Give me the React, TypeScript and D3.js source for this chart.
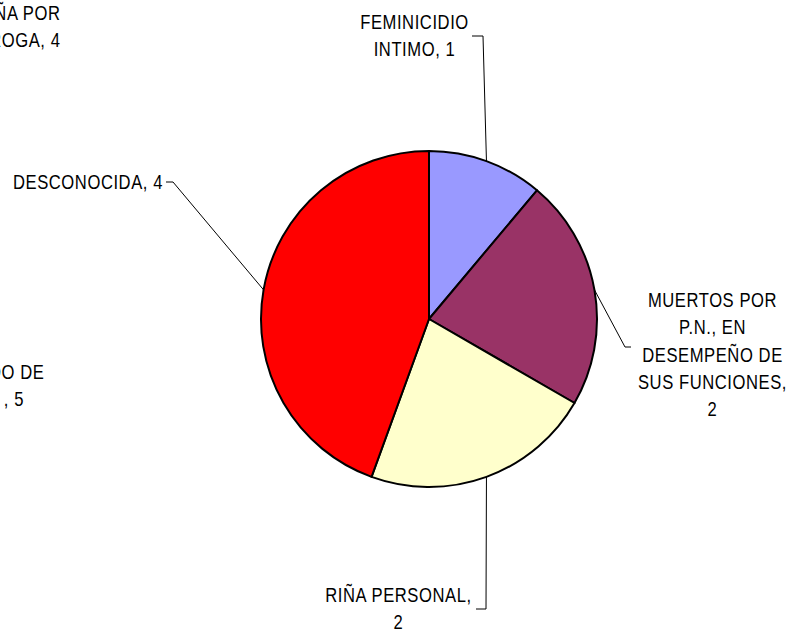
import React from "react";
import * as d3 from "d3";

const categories = [
  "FEMINICIDIO INTIMO",
  "MUERTOS POR P.N., EN DESEMPEÑO DE SUS FUNCIONES",
  "RIÑA PERSONAL",
  "DESCONOCIDA",
];
const values = [1, 2, 2, 4];
const colors = ["#9999FF", "#993366", "#FFFFCC", "#FF0000"];
const labelLines = [
  ["FEMINICIDIO", "INTIMO, 1"],
  ["MUERTOS POR", "P.N., EN", "DESEMPEÑO DE", "SUS FUNCIONES,", "2"],
  ["RIÑA PERSONAL,", "2"],
  ["DESCONOCIDA, 4"],
];
// cut-off labels from a neighbouring chart, only partly visible
const outsideLabels = [
  ["RIÑA POR", "DROGA, 4"],
  ["DO DE", ", 5"],
];

const W = 797;
const H = 630;
const cx = 429;
const cy = 319;
const R = 168;
const FONT = "'Liberation Sans', Arial, sans-serif";
const FS = 20;
const SX = 0.83;
const LSP = 0.7;
const LH = 27.3;

// label layout: x, first baseline, anchor, leader elbow points
const layout = [
  { x: 414.5, y: 29, anchor: "middle", leader: [[472, 36], [483, 36]] },
  { x: 712.5, y: 307, anchor: "middle", leader: [[631, 347], [625, 347]] },
  { x: 398.5, y: 602, anchor: "middle", leader: [[476, 609], [486, 609]] },
  { x: 163, y: 189, anchor: "end", leader: [[166, 182], [173, 182]] },
];
const outsideLayout = [
  { xs: [60.5, 60.5], y: 20, lh: LH },
  { xs: [44.5, 24], y: 379, lh: LH },
];

export default function App() {
  const pie = d3.pie<number>().sort(null).value((d) => d)(values);
  const arc = d3.arc<d3.PieArcDatum<number>>().innerRadius(0).outerRadius(R);
  const rimArc = d3.arc<d3.PieArcDatum<number>>().innerRadius(R).outerRadius(R);
  const line = d3.line();

  return (
    <svg
      width={W}
      height={H}
      style={{ position: "absolute", left: 0, top: 0, background: "#fff" }}
    >
      <g transform={`translate(${cx},${cy})`}>
        {pie.map((p, i) => (
          <path
            key={categories[i]}
            d={arc(p) || ""}
            fill={colors[i]}
            stroke="#000"
            strokeWidth={2}
            strokeLinejoin="round"
          />
        ))}
      </g>
      {pie.map((p, i) => {
        const [mx, my] = rimArc.centroid(p);
        const pts = [...layout[i].leader, [mx + cx, my + cy]] as [number, number][];
        return (
          <path
            key={"l" + i}
            d={line(pts) || ""}
            fill="none"
            stroke="#000"
            strokeWidth={1}
          />
        );
      })}
      {labelLines.map((ls, i) => (
        <text
          key={"t" + i}
          transform={`translate(${layout[i].x},${layout[i].y}) scale(${SX},1)`}
          textAnchor={layout[i].anchor as any}
          fontFamily={FONT}
          fontSize={FS}
          letterSpacing={LSP}
          fill="#000"
        >
          {ls.map((s, j) => (
            <tspan key={j} x={0} y={j * LH}>
              {s}
            </tspan>
          ))}
        </text>
      ))}
      {outsideLabels.map((ls, i) =>
        ls.map((s, j) => (
          <text
            key={"o" + i + "_" + j}
            transform={`translate(${outsideLayout[i].xs[j]},${
              outsideLayout[i].y + j * outsideLayout[i].lh
            }) scale(${SX},1)`}
            textAnchor="end"
            fontFamily={FONT}
            fontSize={FS}
            letterSpacing={LSP}
            fill="#000"
          >
            {s}
          </text>
        ))
      )}
    </svg>
  );
}
